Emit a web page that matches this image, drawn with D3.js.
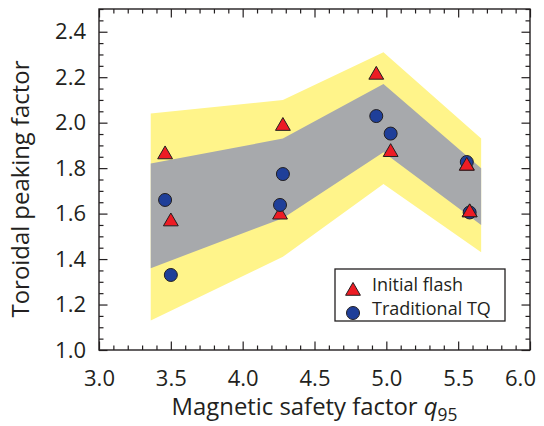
<!DOCTYPE html>
<html>
<head>
<meta charset="utf-8">
<script src="https://cdn.jsdelivr.net/npm/d3@7"></script>
<style>
  html, body { margin: 0; padding: 0; background: #fff; }
  #chart { width: 544px; height: 426px; }
  text { font-family: "Open Sans", "Noto Sans", sans-serif; fill: #231f20; }
</style>
</head>
<body>
<div id="chart"></div>
<script>
// band edges (q95 positions and the four boundaries)
const bandQ = [3.36, 4.28, 4.98, 5.66];
const yellowUpper = [2.04, 2.10, 2.31, 1.93];
const grayUpper = [1.82, 1.93, 2.17, 1.80];
const grayLower = [1.36, 1.58, 1.87, 1.55];
const yellowLower = [1.13, 1.41, 1.73, 1.43];

// Initial flash (triangles)
const flashQ = [3.46, 3.50, 4.28, 4.26, 4.93, 5.03, 5.56, 5.58];
const flashV = [1.86, 1.565, 1.985, 1.595, 2.21, 1.87, 1.81, 1.605];

// Traditional TQ (circles)
const tqQ = [3.46, 3.50, 4.28, 4.26, 4.93, 5.03, 5.56, 5.58];
const tqV = [1.66, 1.33, 1.774, 1.638, 2.029, 1.952, 1.827, 1.605];

const xTicks = [3.0, 3.5, 4.0, 4.5, 5.0, 5.5, 6.0];
const yTicks = [1.0, 1.2, 1.4, 1.6, 1.8, 2.0, 2.2, 2.4];
const legendLabels = ["Initial flash", "Traditional TQ"];

// ajusta o tamanho da fonte para o texto ocupar a largura pedida
function fitText(sel, target) {
  const w = sel.node().getComputedTextLength();
  const k = target / w;
  sel.selectAll("tspan").each(function () {
    const fs = parseFloat(this.style.fontSize);
    if (fs) this.style.fontSize = (fs * k) + "px";
  });
  sel.style("font-size", (parseFloat(sel.style("font-size")) * k) + "px");
}

function draw() {
  const container = document.getElementById("chart");
  container.innerHTML = "";

  const width = 544, height = 426;
  const margin = { top: 9, right: 14, bottom: 76, left: 99 };
  const ink = "#231f20";

  const svg = d3.select("#chart")
    .append("svg")
    .attr("width", width)
    .attr("height", height);

  const x = d3.scaleLinear().domain([3.0, 6.0]).range([margin.left, width - margin.right]);
  const y = d3.scaleLinear().domain([1.0, 2.5]).range([height - margin.bottom, margin.top]);

  // Faixas (amarela por fora, cinza por dentro)
  const band = (upper, lower) => {
    const pts = bandQ.map((q, i) => [x(q), y(upper[i])])
      .concat(bandQ.map((q, i) => [x(q), y(lower[i])]).reverse());
    return "M" + pts.join("L") + "Z";
  };
  svg.append("path").attr("d", band(yellowUpper, yellowLower)).attr("fill", "#fff48a");
  svg.append("path").attr("d", band(grayUpper, grayLower)).attr("fill", "#a7a9ac");

  // Eixos: ticks para dentro nos quatro lados
  const xMinor = d3.range(30, 61).map(d => d / 10).filter(d => !xTicks.some(t => Math.abs(t - d) < 1e-6));
  const yMinor = d3.range(20, 51).map(d => d / 20).filter(d => !yTicks.some(t => Math.abs(t - d) < 1e-6));

  const axes = [
    { ax: d3.axisBottom, s: x, t: `translate(0,${y.range()[0]})`, major: xTicks, minor: xMinor, labels: true, pad: 20 },
    { ax: d3.axisTop, s: x, t: `translate(0,${y.range()[1]})`, major: xTicks, minor: xMinor, labels: false },
    { ax: d3.axisLeft, s: y, t: `translate(${x.range()[0]},0)`, major: yTicks, minor: yMinor, labels: true, pad: 13 },
    { ax: d3.axisRight, s: y, t: `translate(${x.range()[1]},0)`, major: yTicks, minor: yMinor, labels: false }
  ];

  axes.forEach(a => {
    const gMaj = svg.append("g")
      .attr("transform", a.t)
      .call(a.ax(a.s).tickValues(a.major).tickSize(-8.5)
        .tickPadding(a.pad || 0)
        .tickFormat(a.labels ? d3.format(".1f") : ""));
    const gMin = svg.append("g")
      .attr("transform", a.t)
      .call(a.ax(a.s).tickValues(a.minor).tickSize(-4.5).tickFormat(""));
    [gMaj, gMin].forEach(g => {
      g.select(".domain").remove();
      g.selectAll("line").attr("stroke", ink).attr("stroke-width", 1.2);
    });
    gMaj.selectAll("text")
      .style("font-size", "22px")
      .attr("fill", ink);
  });

  // o último rótulo (6.0) é puxado para dentro da figura
  svg.selectAll(".tick text").filter(d => d === 6.0).attr("dx", -10);

  // Moldura
  svg.append("rect")
    .attr("x", x.range()[0])
    .attr("y", y.range()[1])
    .attr("width", x.range()[1] - x.range()[0])
    .attr("height", y.range()[0] - y.range()[1])
    .attr("fill", "none")
    .attr("stroke", ink)
    .attr("stroke-width", 1.4);

  // Pontos
  const tri = d3.symbol().type(d3.symbolTriangle).size(95);
  const flash = flashQ.map((q, i) => ({ q, v: flashV[i] }));
  const tq = tqQ.map((q, i) => ({ q, v: tqV[i] }));

  svg.append("g").selectAll("path")
    .data(flash)
    .enter()
    .append("path")
    .attr("d", tri)
    .attr("transform", d => `translate(${x(d.q)},${y(d.v)})`)
    .attr("fill", "#ed1c24")
    .attr("stroke", ink)
    .attr("stroke-width", 1);

  svg.append("g").selectAll("circle")
    .data(tq)
    .enter()
    .append("circle")
    .attr("cx", d => x(d.q))
    .attr("cy", d => y(d.v))
    .attr("r", 6.5)
    .attr("fill", "#1f3f99")
    .attr("stroke", ink)
    .attr("stroke-width", 1);

  // triângulos acima de q95 = 5.5 ficam por cima dos círculos
  svg.append("g").selectAll("path")
    .data(flash.filter(d => d.q > 5.5))
    .enter()
    .append("path")
    .attr("d", tri)
    .attr("transform", d => `translate(${x(d.q)},${y(d.v)})`)
    .attr("fill", "#ed1c24")
    .attr("stroke", ink)
    .attr("stroke-width", 1);

  // Legenda
  const legend = svg.append("g").attr("transform", "translate(335,269)");
  legend.append("rect")
    .attr("width", 170)
    .attr("height", 52)
    .attr("fill", "#fff")
    .attr("stroke", ink)
    .attr("stroke-width", 1.3);
  legend.append("path")
    .attr("d", tri)
    .attr("transform", "translate(18,22)")
    .attr("fill", "#ed1c24")
    .attr("stroke", ink);
  legend.append("circle")
    .attr("cx", 18)
    .attr("cy", 44)
    .attr("r", 6.5)
    .attr("fill", "#1f3f99")
    .attr("stroke", ink);
  legendLabels.forEach((lab, i) => {
    legend.append("text")
      .attr("x", 37)
      .attr("y", 22 + i * 24)
      .style("font-size", "18px")
      .text(lab);
  });

  // Títulos dos eixos
  const xt = svg.append("text")
    .attr("x", (x.range()[0] + x.range()[1]) / 2)
    .attr("y", 415)
    .attr("text-anchor", "middle")
    .style("font-size", "22px");
  xt.append("tspan").text("Magnetic safety factor ");
  xt.append("tspan").style("font-style", "italic").text("q");
  xt.append("tspan").attr("dy", 6).style("font-size", "16px").text("95");
  fitText(xt, 286);

  const yt = svg.append("text")
    .attr("transform", "translate(29,189) rotate(-90)")
    .attr("text-anchor", "middle")
    .style("font-size", "22px")
    .text("Toroidal peaking factor");
  fitText(yt, 257);
}

draw();
</script>
</body>
</html>
